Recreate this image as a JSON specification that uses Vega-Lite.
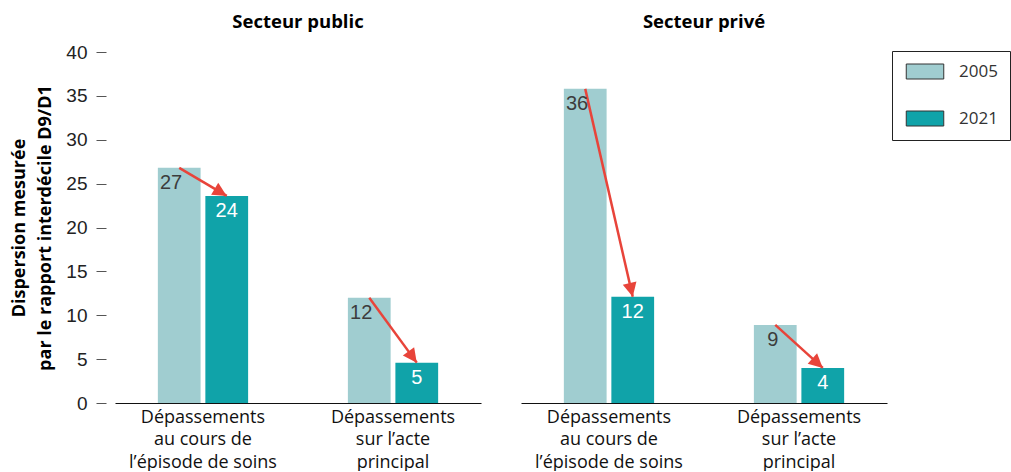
{
  "$schema": "https://vega.github.io/schema/vega-lite/v6.json",
  "padding": {"left": 10, "top": 12, "right": 0, "bottom": 0},
  "data": {"values": [
    {"secteur": "Secteur public", "type": "Dépassements|au cours de|l’épisode de soins", "annee": "2005", "valeur": 26.8},
    {"secteur": "Secteur public", "type": "Dépassements|au cours de|l’épisode de soins", "annee": "2021", "valeur": 23.6},
    {"secteur": "Secteur public", "type": "Dépassements|sur l’acte|principal", "annee": "2005", "valeur": 12.0},
    {"secteur": "Secteur public", "type": "Dépassements|sur l’acte|principal", "annee": "2021", "valeur": 4.6},
    {"secteur": "Secteur privé", "type": "Dépassements|au cours de|l’épisode de soins", "annee": "2005", "valeur": 35.8},
    {"secteur": "Secteur privé", "type": "Dépassements|au cours de|l’épisode de soins", "annee": "2021", "valeur": 12.1},
    {"secteur": "Secteur privé", "type": "Dépassements|sur l’acte|principal", "annee": "2005", "valeur": 8.9},
    {"secteur": "Secteur privé", "type": "Dépassements|sur l’acte|principal", "annee": "2021", "valeur": 4.0}
  ]},
  "facet": {
    "column": {
      "field": "secteur", "type": "nominal",
      "sort": ["Secteur public", "Secteur privé"],
      "header": {"title": null, "labelFont": "Open Sans", "labelFontWeight": "bold", "labelFontSize": 18.5, "labelColor": "#000", "labelPadding": 21}
    }
  },
  "spacing": 40,
  "spec": {
    "width": 366,
    "height": 351,
    "encoding": {
      "x": {
        "field": "type", "type": "nominal", "sort": null,
        "scale": {"paddingInner": 0.5, "paddingOuter": 0.213},
        "axis": {
          "title": null, "labelAngle": 0, "ticks": false,
          "labelExpr": "split(datum.label, '|')",
          "labelFont": "Open Sans", "labelFontSize": 18, "labelLineHeight": 22.5,
          "labelColor": "#111", "labelPadding": 5,
          "domainColor": "#111", "domainWidth": 1.2
        }
      },
      "xOffset": {"field": "annee", "type": "nominal", "scale": {"paddingInner": 0.1, "paddingOuter": 0.05}},
      "y": {
        "field": "valeur", "type": "quantitative",
        "scale": {"domain": [0, 40], "nice": false},
        "axis": {
          "title": ["Dispersion mesurée", "par le rapport interdécile D9/D1"],
          "titleFont": "Open Sans", "titleFontWeight": "bold", "titleFontSize": 18,
          "titleLineHeight": 26, "titleColor": "#000", "titlePadding": 11,
          "values": [0, 5, 10, 15, 20, 25, 30, 35, 40],
          "grid": false, "domain": false, "offset": 9,
          "labelFont": "Liberation Sans", "labelFontSize": 19, "labelColor": "#222",
          "labelPadding": 9, "tickSize": 10, "tickColor": "#555"
        }
      }
    },
    "layer": [
      {
        "mark": {"type": "bar"},
        "encoding": {
          "color": {
            "field": "annee", "type": "nominal",
            "scale": {"domain": ["2005", "2021"], "range": ["#a0cdd0", "#10a3a9"]},
            "legend": {
              "title": null, "orient": "none", "legendX": 777, "legendY": -1,
              "strokeColor": "#222", "fillColor": "#fff", "padding": 12,
              "rowPadding": 28,
              "symbolType": "M-2.5,-1H2.5V1H-2.5Z", "symbolSize": 225, "symbolOffset": 12.5,
              "symbolStrokeColor": "#333", "symbolStrokeWidth": 1, "symbolOpacity": 1,
              "labelFont": "Open Sans", "labelFontSize": 17, "labelColor": "#333", "labelOffset": 25.5
            }
          }
        }
      },
      {
        "mark": {"type": "line", "color": "#e8443a", "strokeWidth": 2.5},
        "encoding": {
          "detail": {"field": "type"},
          "order": {"field": "annee"}
        }
      },
      {
        "transform": [
          {"calculate": "datum.annee == '2005' ? datum.valeur : null", "as": "v05"},
          {"joinaggregate": [{"op": "max", "field": "v05", "as": "v2005"}], "groupby": ["secteur", "type"]},
          {"filter": "datum.annee == '2021'"},
          {"calculate": "90 + atan2((datum.v2005 - datum.valeur) * 8.775, 47.5) * 180 / PI", "as": "ang"}
        ],
        "mark": {"type": "point", "shape": "M0,0L-0.5,1L0.5,1Z", "filled": true, "size": 784, "color": "#e8443a", "opacity": 1},
        "encoding": {
          "angle": {"field": "ang", "type": "quantitative", "scale": null}
        }
      },
      {
        "transform": [{"filter": "datum.annee == '2005'"}],
        "mark": {"type": "text", "align": "right", "baseline": "top", "dx": 3, "dy": 5, "font": "Liberation Sans", "fontSize": 20, "color": "#3c3c3c"},
        "encoding": {"text": {"field": "valeur", "type": "quantitative", "format": ".0f"}}
      },
      {
        "transform": [{"filter": "datum.annee == '2021'"}],
        "mark": {"type": "text", "align": "center", "baseline": "top", "dy": 5, "font": "Liberation Sans", "fontSize": 20, "color": "#ffffff"},
        "encoding": {"text": {"field": "valeur", "type": "quantitative", "format": ".0f"}}
      }
    ]
  },
  "config": {"view": {"stroke": null}}
}
